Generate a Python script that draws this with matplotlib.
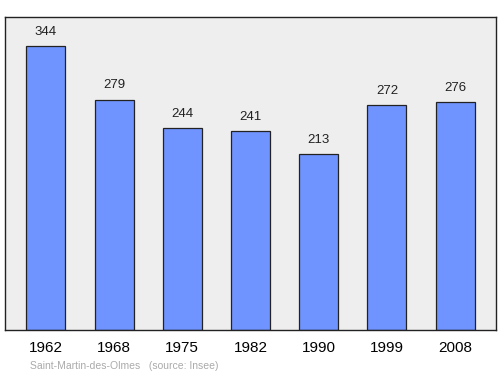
import matplotlib
matplotlib.use("Agg")
from matplotlib import pyplot as plt

years = ["1962", "1968", "1975", "1982", "1990", "1999", "2008"]
population = [344, 279, 244, 241, 213, 272, 276]

plt.rcParams['font.family'] = ['Liberation Sans', 'DejaVu Sans']

fig = plt.figure(figsize=(5, 3.74), dpi=100)
ax = fig.add_axes([0.01, 0.1176, 0.982, 0.837])
ax.set_facecolor("#eeeeee")

x = range(len(years))
ax.bar(x, population, width=0.57, color="#7094ff", edgecolor="#222222", linewidth=0.9)
for xi, v in zip(x, population):
    ax.annotate(str(v), (xi, v), xytext=(0, 6), textcoords="offset points",
                ha="center", va="bottom", fontsize=9.5, color="#222222")

ax.set_xlim(-0.6, 6.6)
ax.set_ylim(0, 379)
ax.set_xticks(list(x))
ax.set_xticklabels(years, fontsize=11)
ax.tick_params(axis="x", length=0, pad=8)
ax.set_yticks([])
for s in ax.spines.values():
    s.set_color("#222222")
    s.set_linewidth(1.0)

fig.text(0.06, 0.014, "Saint-Martin-des-Olmes   (source: Insee)", fontsize=7.5, color="#aaaaaa")

fig.savefig("out.png", dpi=100)
